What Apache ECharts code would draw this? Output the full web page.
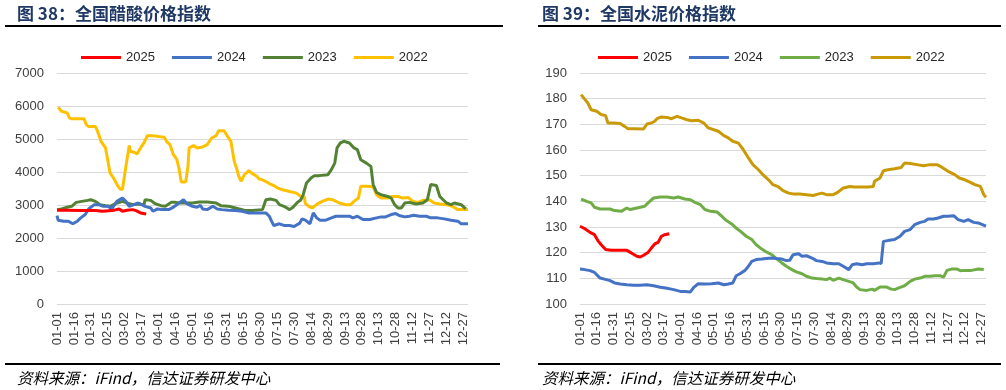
<!DOCTYPE html>
<html>
<head>
<meta charset="utf-8">
<script src="https://cdn.jsdelivr.net/npm/echarts@6/dist/echarts.min.js"></script>
<style>
html,body{margin:0;padding:0;background:#fff;}
#c{width:1006px;height:390px;}
</style>
</head>
<body>
<div id="c"></div>
<script>
// ---------- tick labels (every 15 days, day index 0..360) ----------
const tickLabels = ['01-01','01-16','01-31','02-15','03-02','03-17','04-01','04-16','05-01','05-16','05-31','06-15','06-30','07-15','07-30','08-14','08-29','09-13','09-28','10-13','10-28','11-12','11-27','12-12','12-27'];
const legendNames = ['2025','2024','2023','2022'];

// ---------- Chart 38: acetic acid price index, [dayOfYear, value] ----------
const acetic2025 = [[0,2840],[7,2840],[22,2830],[34,2830],[40,2810],[49,2830],[55,2880],[58,2810],[62,2840],[67,2860],[70,2830],[74,2760],[79,2730]];
const acetic2024 = [[0,2680],[1,2540],[6,2510],[10,2510],[14,2430],[18,2510],[21,2610],[25,2710],[28,2880],[33,3010],[37,3010],[41,2960],[46,2960],[48,2840],[50,2960],[53,3110],[58,3210],[61,3110],[64,2960],[68,3010],[72,3060],[78,2960],[83,2910],[85,2810],[89,2880],[93,2860],[99,2860],[102,2910],[106,3010],[110,3110],[112,3160],[115,3040],[120,2960],[124,2930],[127,2990],[129,2880],[133,2860],[138,2960],[142,2880],[146,2860],[152,2840],[158,2830],[164,2810],[170,2760],[179,2760],[185,2760],[188,2660],[190,2510],[192,2380],[197,2430],[201,2380],[206,2380],[210,2350],[215,2450],[217,2580],[220,2540],[224,2430],[227,2760],[230,2610],[233,2540],[238,2540],[243,2610],[247,2660],[253,2660],[259,2660],[262,2610],[266,2660],[271,2560],[277,2560],[283,2610],[287,2640],[291,2640],[296,2710],[300,2740],[303,2680],[308,2640],[312,2660],[316,2690],[321,2660],[327,2660],[331,2610],[337,2610],[343,2580],[349,2540],[355,2510],[358,2430],[364,2430]];
const acetic2023 = [[0,2860],[4,2880],[9,2930],[13,2960],[17,3080],[22,3110],[27,3140],[30,3160],[34,3110],[38,3010],[43,2980],[47,2960],[52,3040],[58,3110],[62,3060],[67,3010],[72,3030],[77,3010],[78,3160],[83,3140],[87,3040],[92,2980],[96,2960],[101,3080],[105,3080],[109,3060],[114,3060],[120,3060],[126,3090],[133,3090],[141,3060],[145,2980],[152,2960],[158,2910],[164,2860],[167,2830],[173,2830],[182,2860],[185,3160],[189,3180],[194,3140],[197,3010],[201,2960],[206,2860],[209,2930],[213,3080],[216,3160],[218,3310],[221,3670],[225,3820],[228,3890],[232,3890],[240,3920],[243,4070],[246,4270],[248,4730],[251,4880],[254,4930],[259,4880],[263,4730],[266,4680],[269,4370],[274,4270],[278,4170],[280,3620],[283,3380],[287,3310],[293,3260],[296,3210],[299,3010],[302,2910],[305,2910],[308,3060],[312,3080],[318,3030],[324,3060],[328,3160],[331,3620],[336,3590],[339,3260],[342,3160],[345,3060],[349,3010],[352,3060],[358,3010],[362,2880]];
const acetic2022 = [[1,5960],[4,5840],[9,5790],[11,5640],[13,5610],[24,5610],[26,5430],[28,5380],[34,5380],[36,5230],[39,4930],[43,4730],[47,3970],[50,3820],[54,3570],[56,3480],[58,3480],[61,4170],[64,4800],[65,4630],[68,4600],[71,4550],[74,4730],[77,4880],[80,5100],[84,5100],[89,5080],[95,5050],[97,4930],[100,4830],[103,4530],[106,4390],[108,4120],[110,3700],[114,3700],[116,4170],[117,4730],[121,4800],[124,4730],[129,4760],[133,4830],[137,5030],[141,5100],[143,5250],[148,5250],[151,5080],[154,4930],[157,4320],[159,4120],[161,3870],[163,3720],[166,3920],[170,4040],[173,3950],[177,3870],[179,3790],[183,3750],[188,3650],[192,3590],[195,3520],[200,3460],[206,3410],[212,3360],[216,3260],[219,3240],[220,3040],[223,2960],[226,2910],[231,3040],[235,3110],[240,3180],[244,3160],[250,3060],[256,3010],[260,3010],[263,3110],[267,3210],[269,3570],[274,3570],[280,3550],[283,3310],[287,3210],[293,3210],[297,3260],[302,3260],[306,3210],[311,3230],[315,3110],[320,3080],[324,3140],[330,3160],[334,3060],[339,3030],[345,3010],[350,2960],[355,2860],[364,2860]];

// ---------- Chart 39: cement price index, [dayOfYear, value] ----------
const cement2025 = [[0,130.3],[4,129.4],[9,127.9],[13,127.0],[16,124.7],[19,123.1],[23,121.2],[28,120.9],[36,120.9],[42,120.9],[46,119.9],[51,118.6],[54,118.3],[57,119.0],[61,120.1],[64,121.8],[67,123.4],[70,124.0],[73,126.4],[76,127.0],[80,127.4]];
const cement2024 = [[0,113.6],[4,113.4],[9,113.0],[13,112.3],[18,110.1],[22,109.7],[27,109.1],[31,108.2],[36,107.8],[42,107.5],[48,107.3],[54,107.3],[60,107.5],[66,107.1],[72,106.5],[78,106.1],[84,105.6],[90,104.9],[94,104.9],[99,104.7],[102,106.5],[106,107.9],[112,107.8],[118,107.9],[124,108.2],[129,107.5],[133,107.8],[137,108.2],[140,111.0],[143,111.7],[148,113.1],[151,114.7],[154,116.6],[158,117.3],[163,117.5],[167,117.7],[172,117.9],[176,117.7],[181,117.5],[185,116.9],[188,117.0],[191,119.2],[196,119.6],[199,118.6],[203,118.8],[208,117.9],[212,116.9],[217,116.6],[221,116.0],[227,115.7],[232,115.7],[236,114.7],[241,113.4],[244,115.3],[248,115.7],[253,115.3],[257,115.7],[263,115.7],[268,116.0],[270,115.7],[272,124.4],[276,124.7],[282,125.1],[287,126.4],[291,128.3],[296,129.0],[300,130.9],[305,131.8],[309,132.2],[312,133.1],[317,133.1],[321,133.5],[326,134.2],[330,134.2],[335,134.4],[339,132.9],[344,132.2],[348,132.9],[353,131.8],[357,131.6],[364,130.3]];
const cement2023 = [[1,140.9],[6,140.0],[10,139.4],[13,137.7],[18,137.0],[27,137.0],[31,136.4],[37,136.1],[42,137.4],[45,136.8],[51,137.4],[58,138.1],[61,139.4],[66,141.3],[72,141.7],[78,141.7],[84,141.3],[88,141.7],[94,140.9],[99,140.6],[103,139.6],[108,138.7],[112,136.8],[117,136.1],[123,135.8],[127,134.2],[131,132.6],[136,131.2],[140,129.6],[145,127.9],[149,126.4],[154,125.1],[158,123.1],[163,121.4],[167,120.3],[172,119.2],[176,117.7],[181,116.0],[185,114.7],[190,113.4],[194,112.5],[199,111.8],[203,110.8],[208,110.1],[212,109.9],[217,109.7],[221,109.5],[224,110.1],[227,109.2],[232,110.1],[236,109.5],[241,108.8],[245,108.2],[248,106.6],[251,105.6],[257,105.3],[262,105.8],[264,105.3],[269,106.6],[275,106.6],[279,105.8],[282,105.6],[287,106.5],[291,107.1],[296,108.8],[300,109.7],[305,110.1],[309,110.8],[314,110.8],[318,111.0],[323,111.0],[326,110.5],[329,113.1],[333,113.6],[338,113.6],[341,113.0],[345,113.1],[351,113.1],[357,113.6],[362,113.4]];
const cement2022 = [[1,181.6],[4,179.9],[7,178.3],[10,175.7],[15,175.1],[19,173.8],[23,173.4],[25,170.5],[30,170.5],[36,170.3],[40,169.2],[43,168.3],[48,168.3],[57,168.2],[60,170.1],[64,170.5],[67,171.2],[69,172.2],[73,172.9],[78,172.7],[82,172.2],[87,173.1],[91,172.5],[96,171.8],[100,171.4],[106,171.6],[111,170.5],[115,168.6],[120,167.9],[124,167.3],[129,165.6],[133,164.7],[137,163.4],[142,162.7],[146,160.4],[151,156.9],[155,154.3],[160,152.3],[164,150.4],[169,148.4],[173,146.5],[178,145.6],[182,144.2],[187,143.2],[191,142.9],[197,142.9],[203,142.6],[209,142.3],[214,142.9],[217,143.2],[221,142.6],[227,142.6],[231,143.5],[236,145.2],[242,145.8],[246,145.6],[253,145.6],[258,145.6],[263,145.8],[264,147.8],[269,149.1],[272,151.9],[276,152.3],[282,152.7],[288,153.2],[291,154.9],[296,154.7],[302,154.3],[308,153.9],[314,154.3],[320,154.3],[324,153.4],[330,151.7],[336,150.4],[340,149.1],[345,148.4],[350,147.4],[354,146.5],[359,145.8],[362,142.6],[364,141.6]];

// ---------- styles ----------
const leftColors = {'2025':'#FF0000','2024':'#4472C4','2023':'#548235','2022':'#FFC000'};
const rightColors = {'2025':'#FF0000','2024':'#4472C4','2023':'#70AD47','2022':'#C99A06'};
const FONT = 'Liberation Sans, Arial, sans-serif';
const CJK = '"Noto Sans CJK SC", sans-serif';

function xAxis(gi){
  return {
    type:'value', gridIndex:gi, min:0, max:364, interval:15,
    axisLine:{show:false}, axisTick:{show:false}, splitLine:{show:false},
    axisLabel:{
      rotate:90, margin:8, color:'#404040', fontSize:13, fontFamily:FONT,
      showMaxLabel:true,
      formatter:function(v){ return (v % 15 === 0 && tickLabels[v/15]) ? tickLabels[v/15] : ''; }
    }
  };
}
function yAxis(gi,min,max,interval){
  return {
    type:'value', gridIndex:gi, min:min, max:max, interval:interval,
    axisLine:{show:false}, axisTick:{show:false},
    splitLine:{lineStyle:{color:'#D9D9D9',width:1}},
    axisLabel:{margin:13, color:'#404040', fontSize:13, fontFamily:FONT,
      formatter:function(v){ return String(v); }}
  };
}
function line(name,data,color,gi){
  return {
    type:'line', name:name, xAxisIndex:gi, yAxisIndex:gi, data:data,
    showSymbol:false, symbol:'none', smooth:false, animation:false,
    lineStyle:{color:color,width:3}, itemStyle:{color:color}
  };
}

const leftData = {'2025':acetic2025,'2024':acetic2024,'2023':acetic2023,'2022':acetic2022};
const rightData = {'2025':cement2025,'2024':cement2024,'2023':cement2023,'2022':cement2022};
const series = [];
['2022','2023','2024','2025'].forEach(function(n){ series.push(line(n, leftData[n], leftColors[n], 0)); });
['2022','2023','2024','2025'].forEach(function(n){ series.push(line('r'+n, rightData[n], rightColors[n], 1)); });

function legend(left, names){
  return {
    left:left, top:46, orient:'horizontal', itemWidth:40, itemHeight:3, itemGap:17,
    icon:'rect', data:names, selectedMode:false,
    textStyle:{color:'#262626', fontSize:13, fontFamily:FONT},
    formatter:function(n){ return n.replace('r',''); }
  };
}

const option = {
  backgroundColor:'#fff',
  animation:false,
  grid:[
    {left:57, right:538, top:73, bottom:86},
    {left:580, right:20, top:73, bottom:86}
  ],
  legend:[
    legend(76, legendNames),
    legend(593, legendNames.map(function(n){return 'r'+n;}))
  ],
  xAxis:[xAxis(0), xAxis(1)],
  yAxis:[yAxis(0,0,7000,1000), yAxis(1,100,190,10)],
  series:series,
  graphic:[
    {type:'text', left:17, top:5, style:{text:'图 38：全国醋酸价格指数', fill:'#1F3864', font:'bold 17px '+CJK}},
    {type:'text', left:542, top:5, style:{text:'图 39：全国水泥价格指数', fill:'#1F3864', font:'bold 17px '+CJK}},
    {type:'rect', shape:{x:5, y:25, width:498, height:2}, style:{fill:'#000'}},
    {type:'rect', shape:{x:538, y:25, width:463, height:2}, style:{fill:'#000'}},
    {type:'rect', shape:{x:5, y:363, width:495, height:2}, style:{fill:'#000'}},
    {type:'rect', shape:{x:538, y:363, width:463, height:2}, style:{fill:'#000'}},
    {type:'text', left:17, top:370, style:{text:'资料来源：iFind，信达证券研发中心', fill:'#000', font:'italic 15.5px '+CJK}},
    {type:'text', left:542, top:370, style:{text:'资料来源：iFind，信达证券研发中心', fill:'#000', font:'italic 15.5px '+CJK}}
  ]
};
const chart = echarts.init(document.getElementById('c'), null, {renderer:'canvas'});
chart.setOption(option);
</script>
</body>
</html>
